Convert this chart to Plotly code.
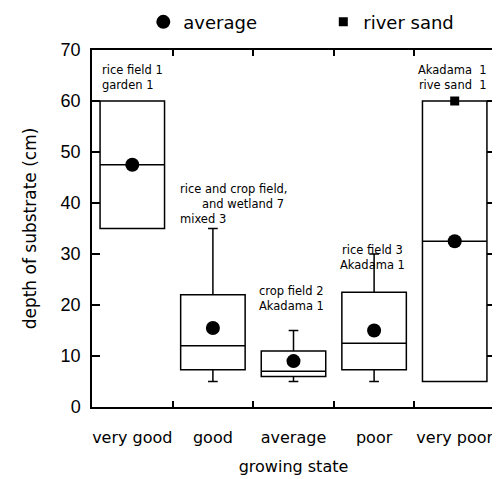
import plotly.graph_objects as go

categories = ["very good", "good", "average", "poor", "very poor"]
q1 = [35, 7.3, 6, 7.3, 5]
median = [47.5, 12, 7, 12.5, 32.5]
q3 = [60, 22, 11, 22.5, 60]
lower = [35, 5, 5, 5, 5]
upper = [60, 35, 15, 30, 60]
mean = [47.5, 15.5, 9, 15, 32.5]
river_sand_cat = ["very poor"]
river_sand_val = [60]

FONT = "DejaVu Sans"
FONT2 = "Liberation Sans"

fig = go.Figure()
fig.add_trace(go.Box(
    x=categories, q1=q1, median=median, q3=q3,
    lowerfence=lower, upperfence=upper,
    width=0.8, whiskerwidth=0.15,
    line=dict(color="black", width=1.5), fillcolor="white",
    boxpoints=False, showlegend=False, hoverinfo="skip",
))
fig.add_trace(go.Scatter(
    x=categories, y=mean, mode="markers", name="average",
    marker=dict(symbol="circle", size=14, color="black"),
))
fig.add_trace(go.Scatter(
    x=river_sand_cat, y=river_sand_val, mode="markers", name="river sand",
    marker=dict(symbol="square", size=9, color="black"),
))

ann_font = dict(family=FONT, size=11.5, color="black")
anns = [
    dict(x=-0.4, y=67.8, text="rice field 1<br>garden 1", xanchor="left", align="left"),
    dict(x=0.57, y=44.6, text="rice and crop field,<br>&nbsp;&nbsp;&nbsp;&nbsp;&nbsp;&nbsp;and wetland 7<br>mixed 3",
         xanchor="left", align="left"),
    dict(x=1.55, y=24.6, text="crop field 2<br>Akadama 1", xanchor="left", align="left"),
    dict(x=2.98, y=32.6, text="rice field 3<br>Akadama 1", xanchor="center", align="center"),
    dict(x=4.43, y=67.9, text="Akadama&nbsp;&nbsp;1<br>rive sand&nbsp;&nbsp;1", xanchor="right", align="right"),
]
for a in anns:
    fig.add_annotation(xref="x", yref="y", yanchor="top", showarrow=False,
                       font=ann_font, **a)

# page body adds an 8px offset, so the figure is sized to fit the 500x479 window
fig.update_layout(
    width=492, height=471,
    margin=dict(l=84, r=5, t=42, b=72),
    paper_bgcolor="white", plot_bgcolor="white",
    font=dict(family=FONT, color="black"),
    legend=dict(orientation="h", xref="container", yref="container",
                x=0.275, xanchor="left", y=0.97, yanchor="middle",
                bgcolor="rgba(0,0,0,0)",
                font=dict(size=18, family=FONT), entrywidth=135, itemsizing="trace"),
    boxmode="overlay",
)
fig.update_xaxes(
    type="category", range=[-0.5, 4.5], tickson="boundaries", automargin=False,
    ticks="inside", ticklen=6, tickwidth=1.5, tickcolor="black", tickangle=0,
    ticklabelstandoff=15,
    showline=True, linecolor="black", linewidth=1.5, mirror="ticks",
    showgrid=False, tickfont=dict(size=16, family=FONT),
    title=dict(text="growing state", font=dict(size=16, family=FONT), standoff=15),
)
fig.update_yaxes(
    range=[0, 70], dtick=10, ticks="inside", ticklen=8, tickwidth=1.5, tickcolor="black",
    showline=True, linecolor="black", linewidth=1.5, mirror="ticks", automargin=False,
    showgrid=False, zeroline=False, tickfont=dict(size=18, family=FONT2),
    ticklabelstandoff=6,
    title=dict(text="depth of substrate (cm)", font=dict(size=17, family=FONT), standoff=20),
)

fig.write_html("out.html")
